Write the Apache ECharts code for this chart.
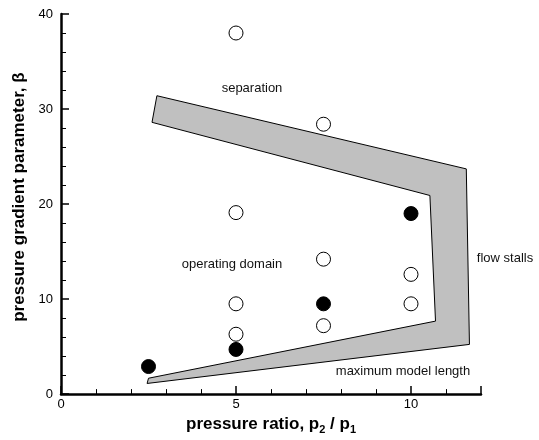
<!DOCTYPE html>
<html>
<head>
<meta charset="utf-8">
<script src="https://cdn.jsdelivr.net/npm/echarts@6/dist/echarts.min.js"></script>
<style>
html, body { margin: 0; padding: 0; background: #fff; }
#main { width: 539px; height: 440px; }
</style>
</head>
<body>
<div id="main"></div>
<script>
// open circles: runs that worked
var openPoints = [
	[5, 38], [7.5, 28.4], [5, 19.1], [7.5, 14.2], [10, 12.6],
	[5, 9.5], [7.5, 7.2], [10, 9.5], [5, 6.3]
];
// filled circles
var filledPoints = [
	[10, 19.0], [7.5, 9.5], [5, 4.7], [2.5, 2.9]
];
// grey boundary band
var bandPolygon = [
	[2.74, 31.4], [11.58, 23.7], [11.67, 5.23], [2.46, 1.12],
	[2.5, 1.67], [10.7, 7.68], [10.54, 20.9], [2.6, 28.6]
];
var xTicks = [0, 5, 10];
var yTicks = [0, 10, 20, 30, 40];

var chart = echarts.init(document.getElementById('main'));
var fontFam = '"Liberation Sans", Arial, sans-serif';

var option = {
	animation: false,
	backgroundColor: '#fff',
	grid: { left: 61, right: 58, top: 14, bottom: 43 },
	xAxis: {
		type: 'value',
		min: 0, max: 12, interval: 5,
		name: 'pressure ratio, p{sub|2} / p{sub|1}',
		nameLocation: 'middle',
		nameGap: 17,
		nameTextStyle: {
			fontFamily: fontFam, fontSize: 17, fontWeight: 'bold', color: '#000',
			rich: { sub: { fontFamily: fontFam, fontSize: 11, fontWeight: 'bold', color: '#000', verticalAlign: 'bottom', padding: [10, 0, 0, 0] } }
		},
		axisLine: { lineStyle: { color: '#000', width: 2.5 } },
		axisTick: { inside: true, length: 8, lineStyle: { color: '#000', width: 1.5 } },
		minorTick: { show: true, splitNumber: 5, length: 5, lineStyle: { color: '#000', width: 1 } },
		axisLabel: {
			fontFamily: fontFam, fontSize: 13, color: '#000', margin: 4,
			formatter: function (v) { return xTicks.indexOf(v) >= 0 ? String(v) : ''; }
		},
		splitLine: { show: false }
	},
	yAxis: {
		type: 'value',
		min: 0, max: 40, interval: 10,
		name: 'pressure gradient parameter, β',
		nameLocation: 'middle',
		nameGap: 29,
		nameTextStyle: { fontFamily: fontFam, fontSize: 17, fontWeight: 'bold', color: '#000', padding: [0, 0, 0, 14] },
		axisLine: { lineStyle: { color: '#000', width: 2.5 } },
		axisTick: { inside: true, length: 8, lineStyle: { color: '#000', width: 1.5 } },
		minorTick: { show: true, splitNumber: 5, length: 5, lineStyle: { color: '#000', width: 1 } },
		axisLabel: {
			fontFamily: fontFam, fontSize: 13, color: '#000', margin: 8,
			formatter: function (v) { return yTicks.indexOf(v) >= 0 ? String(v) : ''; }
		},
		splitLine: { show: false }
	},
	series: [
		{
			type: 'custom',
			silent: true,
			z: 1,
			renderItem: function (params, api) {
				var pts = bandPolygon.map(function (p) { return api.coord(p); });
				return {
					type: 'polygon',
					shape: { points: pts },
					style: { fill: '#c0c0c0', stroke: '#000', lineWidth: 1 }
				};
			},
			data: [0]
		},
		{
			type: 'scatter',
			z: 3,
			symbol: 'circle',
			symbolSize: 14,
			itemStyle: { color: '#fff', borderColor: '#000', borderWidth: 1, opacity: 1 },
			data: openPoints
		},
		{
			type: 'scatter',
			z: 3,
			symbol: 'circle',
			symbolSize: 14,
			itemStyle: { color: '#000', borderColor: '#000', borderWidth: 1, opacity: 1 },
			data: filledPoints
		}
	],
	graphic: [
		{ type: 'text', x: 252, y: 88, style: { text: 'separation', fontFamily: fontFam, fontSize: 13, fill: '#111', align: 'center', verticalAlign: 'middle' } },
		{ type: 'text', x: 232, y: 264, style: { text: 'operating domain', fontFamily: fontFam, fontSize: 13, fill: '#111', align: 'center', verticalAlign: 'middle' } },
		{ type: 'text', x: 505, y: 258, style: { text: 'flow stalls', fontFamily: fontFam, fontSize: 13, fill: '#111', align: 'center', verticalAlign: 'middle' } },
		{ type: 'text', x: 403, y: 371, style: { text: 'maximum model length', fontFamily: fontFam, fontSize: 13, fill: '#111', align: 'center', verticalAlign: 'middle' } }
	]
};
chart.setOption(option);
</script>
</body>
</html>
